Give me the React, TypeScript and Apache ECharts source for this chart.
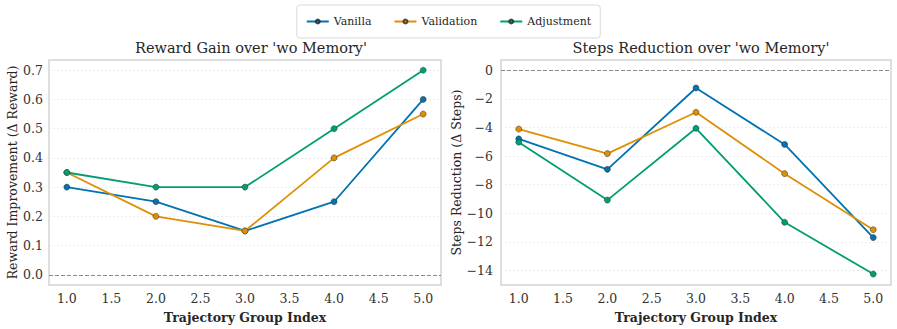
import React, { useEffect, useRef } from "react";
import * as echarts from "echarts";

const groups = [1, 2, 3, 4, 5];
const xTicks = [1.0, 1.5, 2.0, 2.5, 3.0, 3.5, 4.0, 4.5, 5.0];
const rewardTicks = [0, 0.1, 0.2, 0.3, 0.4, 0.5, 0.6, 0.7];
const stepsTicks = [0, -2, -4, -6, -8, -10, -12, -14];
const seriesNames = ["Vanilla", "Validation", "Adjustment"];
const seriesColors = ["#0173b2", "#de8f05", "#029e73"];

const rewardVanilla = [0.3, 0.25, 0.15, 0.25, 0.6];
const rewardValidation = [0.35, 0.2, 0.15, 0.4, 0.55];
const rewardAdjustment = [0.35, 0.3, 0.3, 0.5, 0.7];

const stepsVanilla = [-4.8, -6.93, -1.24, -5.19, -11.7];
const stepsValidation = [-4.11, -5.83, -2.94, -7.23, -11.15];
const stepsAdjustment = [-5.03, -9.08, -4.06, -10.63, -14.25];

const FONT = "DejaVu Serif";

export default function App() {
  const ref = useRef<HTMLDivElement>(null);
  useEffect(() => {
    if (!ref.current) return;
    const chart = echarts.init(ref.current, undefined, { renderer: "svg" });
    const rewardData = [rewardVanilla, rewardValidation, rewardAdjustment];
    const stepsData = [stepsVanilla, stepsValidation, stepsAdjustment];

    const gridSeries = (axisIdx: number, ticks: number[]) => ({
      type: "line",
      name: "__grid" + axisIdx,
      xAxisIndex: axisIdx,
      yAxisIndex: axisIdx,
      data: [],
      z: 1,
      silent: true,
      markLine: {
        z: 1,
        silent: true,
        symbol: "none",
        label: { show: false },
        animation: false,
        data: [
          ...ticks.map((v) => ({
            yAxis: v,
            lineStyle: { color: "#e8e8e8", type: [2, 2], width: 0.8 },
          })),
          { yAxis: 0, lineStyle: { color: "#8c8c8c", type: [4, 2], width: 1 } },
        ],
      },
    });

    const makeSeries = (data: number[][], axisIdx: number) =>
      data.map((vals, i) => ({
        name: seriesNames[i],
        type: "line",
        xAxisIndex: axisIdx,
        yAxisIndex: axisIdx,
        data: groups.map((g, j) => [g, vals[j]]),
        symbol: "circle",
        symbolSize: 6,
        lineStyle: { color: seriesColors[i], width: 1.8 },
        itemStyle: {
          color: seriesColors[i],
          borderColor: "rgba(40,40,40,0.8)",
          borderWidth: 0.6,
        },
        z: 3 + i,
      }));

    const minus = (v: number, d: number) =>
      v.toFixed(d).replace("-", "\u2212");

    const xAxisBase = (gridIndex: number) => ({
      type: "value",
      gridIndex,
      min: 0.8,
      max: 5.2,
      axisLine: { show: false },
      axisTick: { show: false },
      splitLine: { show: false },
      axisLabel: {
        customValues: xTicks,
        formatter: (v: number) => v.toFixed(1),
        fontFamily: FONT,
        fontSize: 12.5,
        color: "#333",
        margin: 7,
      },
      name: "Trajectory Group Index",
      nameLocation: "middle",
      nameGap: 26,
      nameTextStyle: {
        fontFamily: FONT,
        fontSize: 12.5,
        fontWeight: "bold",
        color: "#262626",
      },
    });

    chart.setOption({
      animation: false,
      backgroundColor: "#ffffff",
      title: [
        {
          text: "Reward Gain over 'wo Memory'",
          left: 246,
          top: 35,
          textAlign: "center",
          textStyle: { fontFamily: FONT, fontSize: 14.5, fontWeight: "normal", color: "#262626" },
        },
        {
          text: "Steps Reduction over 'wo Memory'",
          left: 696,
          top: 35,
          textAlign: "center",
          textStyle: { fontFamily: FONT, fontSize: 14.5, fontWeight: "normal", color: "#262626" },
        },
      ],
      legend: {
        data: seriesNames,
        left: "center",
        top: 5,
        orient: "horizontal",
        itemWidth: 22,
        itemHeight: 5,
        itemGap: 22,
        padding: [11, 9],
        borderColor: "#d9d9d9",
        borderWidth: 1,
        borderRadius: 3,
        textStyle: { fontFamily: FONT, fontSize: 11, color: "#262626" },
      },
      grid: [
        {
          left: 49,
          top: 60,
          width: 392,
          height: 228,
          show: true,
          borderColor: "#d4d4d4",
          borderWidth: 1.5,
          backgroundColor: "#ffffff",
        },
        {
          left: 501,
          top: 60,
          width: 390,
          height: 228,
          show: true,
          borderColor: "#d4d4d4",
          borderWidth: 1.5,
          backgroundColor: "#ffffff",
        },
      ],
      xAxis: [xAxisBase(0), xAxisBase(1)],
      yAxis: [
        {
          type: "value",
          gridIndex: 0,
          min: -0.035,
          max: 0.735,
          axisLine: { show: false },
          axisTick: { show: false },
          splitLine: { show: false },
          axisLabel: {
            customValues: rewardTicks,
            formatter: (v: number) => minus(v, 1),
            fontFamily: FONT,
            fontSize: 12.5,
            color: "#333",
            margin: 6,
          },
          name: "Reward Improvement (\u0394 Reward)",
          nameLocation: "middle",
          nameGap: 30,
          nameTextStyle: { fontFamily: FONT, fontSize: 12.5, color: "#262626" },
        },
        {
          type: "value",
          gridIndex: 1,
          min: -15.015,
          max: 0.715,
          axisLine: { show: false },
          axisTick: { show: false },
          splitLine: { show: false },
          axisLabel: {
            customValues: stepsTicks,
            formatter: (v: number) => minus(v, 0),
            fontFamily: FONT,
            fontSize: 12.5,
            color: "#333",
            margin: 8,
          },
          name: "Steps Reduction (\u0394 Steps)",
          nameLocation: "middle",
          nameGap: 36,
          nameTextStyle: { fontFamily: FONT, fontSize: 12.5, color: "#262626" },
        },
      ],
      series: [
        gridSeries(0, rewardTicks),
        gridSeries(1, stepsTicks),
        ...makeSeries(rewardData, 0),
        ...makeSeries(stepsData, 1),
      ],
    });
    return () => chart.dispose();
  }, []);
  return (
    <div
      ref={ref}
      style={{ position: "fixed", left: 0, top: 0, width: 897, height: 329 }}
    />
  );
}
